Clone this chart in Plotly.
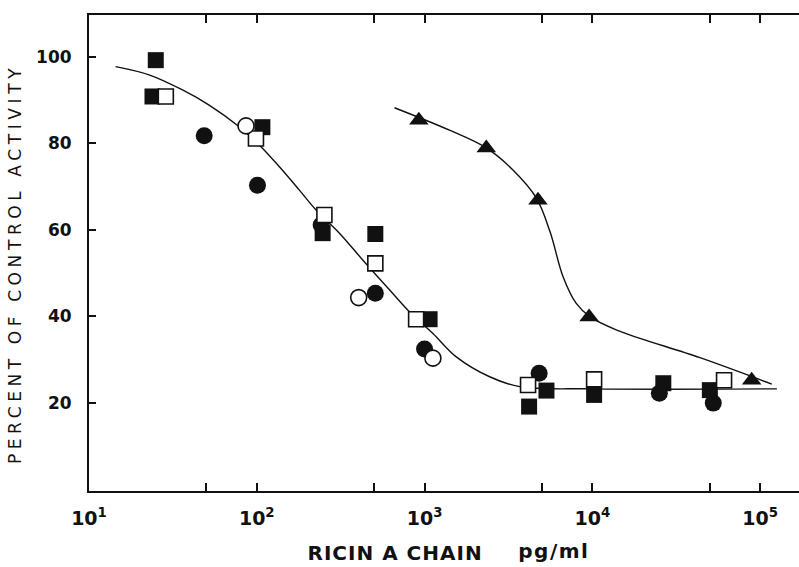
import plotly.graph_objects as go

# Inhibition of control activity by ricin A chain (pg/ml), several preparations
filled_sq_x = [25.0, 23.9, 108, 247, 509, 1072, 4200, 5330, 10250, 26500, 50200]
filled_sq_y = [99.2, 90.8, 83.7, 59.2, 59.0, 39.3, 19.1, 22.8, 21.8, 24.5, 22.9]

open_sq_x = [28.7, 98.9, 253, 509, 891, 4140, 10250, 61000]
open_sq_y = [90.8, 81.1, 63.4, 52.2, 39.3, 24.1, 25.4, 25.2]

filled_ci_x = [48.6, 101, 242, 509, 1000, 4820, 25100, 52600]
filled_ci_y = [81.7, 70.3, 61.1, 45.3, 32.4, 26.8, 22.2, 19.9]

open_ci_x = [86.3, 405, 1122]
open_ci_y = [84.0, 44.3, 30.3]

tri_x = [925, 2334, 4745, 9570, 89100]
tri_y = [85.3, 78.9, 66.8, 39.8, 25.2]

# Hand-fitted dose-response curves
curve1_x = [14.4, 22.8, 36.1, 52.0, 78.6, 103.5, 136, 179, 225, 311, 428, 618,
            813, 1122, 1546, 2443, 3690, 10200, 126000]
curve1_y = [97.7, 95.8, 92.3, 88.8, 83.8, 79.6, 74.6, 69.2, 64.6, 59.2, 53.0, 46.1,
            41.0, 36.0, 30.6, 26.0, 23.7, 23.2, 23.2]

curve2_x = [662, 1409, 2334, 3365, 4643, 5600, 6696, 8000, 9660, 14000, 43850, 117500]
curve2_y = [88.2, 83.0, 78.9, 73.8, 67.3, 59.5, 49.1, 43.0, 39.9, 36.8, 30.4, 24.3]

x_major = [10, 100, 1000, 10000, 100000]
x_labels = ["10<sup>%d</sup>" % k for k in range(1, 6)]
x_minor = [50, 500, 5000, 50000]
y_tickvals = [20, 40, 60, 80, 100]
y_ticktext = ["20", "40", "60", "80", "100"]

INK = "#111111"
FONT = "DejaVu Sans"

fig = go.Figure()

for cx, cy in [(curve1_x, curve1_y), (curve2_x, curve2_y)]:
    fig.add_trace(go.Scatter(
        x=cx, y=cy, mode="lines",
        line=dict(color=INK, width=1.4, shape="spline", smoothing=1.0),
        hoverinfo="skip", showlegend=False))


def marker_trace(xs, ys, symbol, size, filled):
    return go.Scatter(
        x=xs, y=ys, mode="markers", showlegend=False,
        marker=dict(symbol=symbol, size=size,
                    color=INK if filled else "white",
                    line=dict(color=INK, width=0 if filled else 1.6)))


fig.add_trace(marker_trace(filled_sq_x, filled_sq_y, "square", 16, True))
fig.add_trace(marker_trace(filled_ci_x, filled_ci_y, "circle", 17, True))
fig.add_trace(marker_trace(open_sq_x, open_sq_y, "square", 15, False))
fig.add_trace(marker_trace(open_ci_x, open_ci_y, "circle", 16, False))
fig.add_trace(marker_trace(tri_x, tri_y, "triangle-up", 17, True))

L, R, T, B = 89, 0, 15, 76
W, H = 799, 567
pw, ph = W - L - R, H - T - B


def px(xpix):
    return (xpix - L) / pw


def py(ypix):
    return (H - B - ypix) / ph


fig.update_layout(
    width=W, height=H,
    margin=dict(l=L, r=R, t=T, b=B),
    paper_bgcolor="white", plot_bgcolor="white",
    xaxis=dict(
        type="log", range=[1.0, 5.232],
        tickmode="array", tickvals=x_major, ticktext=x_labels,
        ticks="inside", ticklen=8, tickwidth=1.5, tickcolor=INK,
        minor=dict(tickmode="array", tickvals=x_minor, ticks="inside",
                   ticklen=8, tickwidth=1.5, tickcolor=INK, showgrid=False),
        showline=True, linecolor=INK, linewidth=2.2, mirror="allticks",
        showgrid=False, zeroline=False,
        tickfont=dict(family=FONT, size=19, color=INK, weight="bold"),
        ticklabelstandoff=9,
    ),
    yaxis=dict(
        range=[-0.42, 109.64],
        tickvals=y_tickvals, ticktext=y_ticktext,
        ticks="inside", ticklen=7, tickwidth=1.5, tickcolor=INK,
        showline=True, linecolor=INK, linewidth=2, mirror=False,
        showgrid=False, zeroline=False,
        tickfont=dict(family=FONT, size=17, color=INK, weight="bold"),
        ticklabelstandoff=12,
    ),
    annotations=[
        dict(text="PERCENT OF CONTROL ACTIVITY", textangle=-90,
             x=px(15), y=py(264), xref="paper", yref="paper",
             xanchor="center", yanchor="middle", showarrow=False,
             font=dict(family=FONT, size=17, color=INK)),
        dict(text="RICIN A CHAIN",
             x=px(395), y=py(553), xref="paper", yref="paper",
             xanchor="center", yanchor="middle", showarrow=False,
             font=dict(family=FONT, size=20, color=INK, weight="bold")),
        dict(text="pg/ml",
             x=px(554), y=py(551), xref="paper", yref="paper",
             xanchor="center", yanchor="middle", showarrow=False,
             font=dict(family=FONT, size=20, color=INK, weight="bold")),
    ],
)

# widen the letter spacing of the lettering, as in the printed figure
spacing_js = """
var gd = document.getElementById('{plot_id}');
gd.querySelectorAll('text.annotation-text').forEach(function(t){
  var s = t.textContent;
  if (s.indexOf('PERCENT') === 0) { t.style.letterSpacing = '4.6px'; }
  else if (s.indexOf('RICIN') === 0) { t.style.letterSpacing = '1px'; }
  else if (s === 'pg/ml') { t.style.letterSpacing = '1.5px'; }
});
"""

fig.write_html("out.html", post_script=spacing_js)
